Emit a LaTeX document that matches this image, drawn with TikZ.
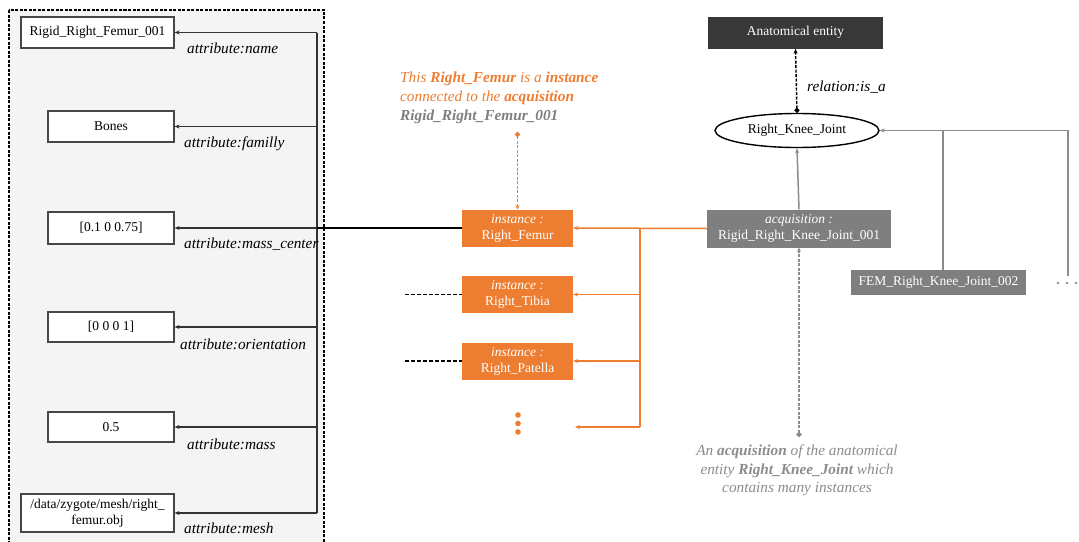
\documentclass[tikz,border=0pt]{standalone}
\usepackage{fontspec}
\setmainfont{Liberation Serif}
\usetikzlibrary{arrows.meta,shapes.geometric,calc}
\definecolor{orng}{HTML}{ED7D31}
\definecolor{gbox}{HTML}{7F7F7F}
\definecolor{gline}{HTML}{8C8C8C}
\definecolor{gtext}{HTML}{8C8C8C}
\definecolor{dark}{HTML}{383838}
\definecolor{panel}{HTML}{F4F4F4}
\tikzset{
  base/.style={font=\fontsize{13.5}{16}\selectfont, inner sep=0pt, align=center},
  attrbox/.style={base, draw=black!72, line width=1.1pt, fill=white, minimum width=126pt, minimum height=31pt},
  widebox/.style={attrbox, minimum width=153pt},
  attrlab/.style={base, anchor=west, font=\fontsize{15.3}{18}\selectfont\itshape},
  inst/.style={base, fill=orng, text=white, minimum width=111pt, minimum height=37pt},
  acqbox/.style={base, fill=gbox, text=white, minimum height=38pt, minimum width=184pt},
  arr/.style={-{Stealth[length=5pt,width=4pt]}, line width=1.3pt, draw=black!80},
  oarr/.style={arr, draw=orng, line width=1.5pt},
  garr/.style={arr, draw=gline, line width=1.5pt},
  bkdash/.style={draw=black, line width=1.5pt, dash pattern=on 4pt off 2pt},
}
\begin{document}
\begin{tikzpicture}[x=1pt,y=-1pt]
\useasboundingbox (0,0) rectangle (1079,541);
% left panel
\draw[fill=panel, draw=black, line width=1.1pt, dash pattern=on 3pt off 1.5pt] (9,10) rectangle (324,548);
\coordinate (bus) at (317,0);
\node[widebox] (a1) at (97.5,32.5) {Rigid\_Right\_Femur\_001};
\node[attrbox] (a2) at (111,126.5) {Bones};
\node[attrbox, minimum height=32pt] (a3) at (111,228) {[0.1 0 0.75]};
\node[attrbox, minimum height=30pt] (a4) at (111,327) {[0 0 0 1]};
\node[attrbox, minimum height=30pt] (a5) at (111,427) {0.5};
\node[widebox, minimum height=38pt] (a6) at (97.5,513) {/data/zygote/mesh/right\_\\femur.obj};
\draw[line width=1.5pt, draw=black!80] (a1.east -| bus) -- (a6.east -| bus);
\foreach \n in {a1,a2,a3,a4,a5,a6}{\draw[arr] (\n.east -| bus) -- (\n.east);}
\node[attrlab] (l1) at (187,48.5) {attribute:name};
\node[attrlab] (l2) at (184,144) {attribute:familly};
\node[attrlab] (l3) at (184,244) {attribute:mass\_center};
\node[attrlab] (l4) at (180,344.5) {attribute:orientation};
\node[attrlab] (l5) at (187,444) {attribute:mass};
\node[attrlab] (l6) at (184,528.5) {attribute:mesh};
% instances
\node[inst] (rf) at (517.5,228) {\textit{instance :}\\Right\_Femur};
\node[inst] (rt) at (517.5,294.5) {\textit{instance :}\\Right\_Tibia};
\node[inst] (rp) at (517.5,361) {\textit{instance :}\\Right\_Patella};
\draw[line width=2.2pt] (rf.west) -- (rf.west -| bus);
\coordinate (dt) at (405,294.5);
\coordinate (dp) at (405,361);
\draw[bkdash] (dt) -- (rt.west);
\draw[bkdash] (dp) -- (rp.west);
\foreach \yy in {415,423.5,432}{\fill[orng] (518,\yy) circle (2.8pt);}
% acquisition
\node[acqbox] (acq) at (799,228.5) {\textit{acquisition :}\\Rigid\_Right\_Knee\_Joint\_001};
\coordinate (ob) at (640,0);
\coordinate (dots) at (575,427);
\draw[oarr] (acq.west) -- (rf.east);
\draw[line width=1.5pt, draw=orng] (rf.east -| ob) -- (dots -| ob);
\draw[oarr] (rt.east -| ob) -- (rt.east);
\draw[oarr] (rp.east -| ob) -- (rp.east);
\draw[oarr] (dots -| ob) -- (dots);
% orange annotation
\node[base, anchor=north west, align=left, text=orng, font=\fontsize{15.3}{19}\selectfont\itshape] (note1) at (400,72)
 {This \textbf{Right\_Femur} is a \textbf{instance}\\connected to the \textbf{acquisition}\\\textcolor{gbox}{\textbf{Rigid\_Right\_Femur\_001}}};
\coordinate (n1dot) at (517.5,132);
\draw[draw=orng, line width=1.4pt, dash pattern=on 3pt off 1.5pt, {Circle[length=5pt]}-{Stealth[length=4pt,width=4pt]}] (n1dot) -- (rf.north);
% top right
\node[base, fill=dark, text=white, minimum width=175pt, minimum height=32pt] (ae) at (795.5,32.5) {Anatomical entity};
\node[base, ellipse, draw=black, line width=1.4pt, fill=white, minimum width=164pt, minimum height=34pt] (ell) at (797,130.5) {Right\_Knee\_Joint};
\draw[draw=black, line width=1.4pt, dash pattern=on 3pt off 1.5pt, {Circle[length=5pt]}-{Stealth[length=5pt,width=4pt]}] (ell.north) -- (ae.south);
\node[attrlab] (isa) at (807,87) {relation:is\_a};
\draw[garr] (acq.north) -- (ell.south);
\node[base, fill=gbox, text=white, minimum width=175pt, minimum height=25pt] (fem) at (938.5,282.5) {FEM\_Right\_Knee\_Joint\_002};
\coordinate (rb) at (1068,276);
\draw[garr] (rb) -- (rb |- ell.east) -- (ell.east);
\draw[line width=1.5pt, draw=gline] ([xshift=4.5pt]fem.north) -- ([xshift=4.5pt]fem.north |- ell.east);
\foreach \xx in {1058,1067,1076}{\fill[gline] (\xx,283) circle (1.4pt);}
% gray annotation
\coordinate (n2dot) at (799,437);
\draw[draw=gline, line width=1.4pt, dash pattern=on 3pt off 1.5pt, {Circle[length=5pt]}-{Stealth[length=4pt,width=4pt]}] (n2dot) -- (acq.south);
\node[base, text=gtext, font=\fontsize{15.3}{18.5}\selectfont\itshape] (note2) at (797,470.5)
 {An \textbf{acquisition} of the anatomical\\entity \textbf{Right\_Knee\_Joint} which\\contains many instances};
\end{tikzpicture}
\end{document}
